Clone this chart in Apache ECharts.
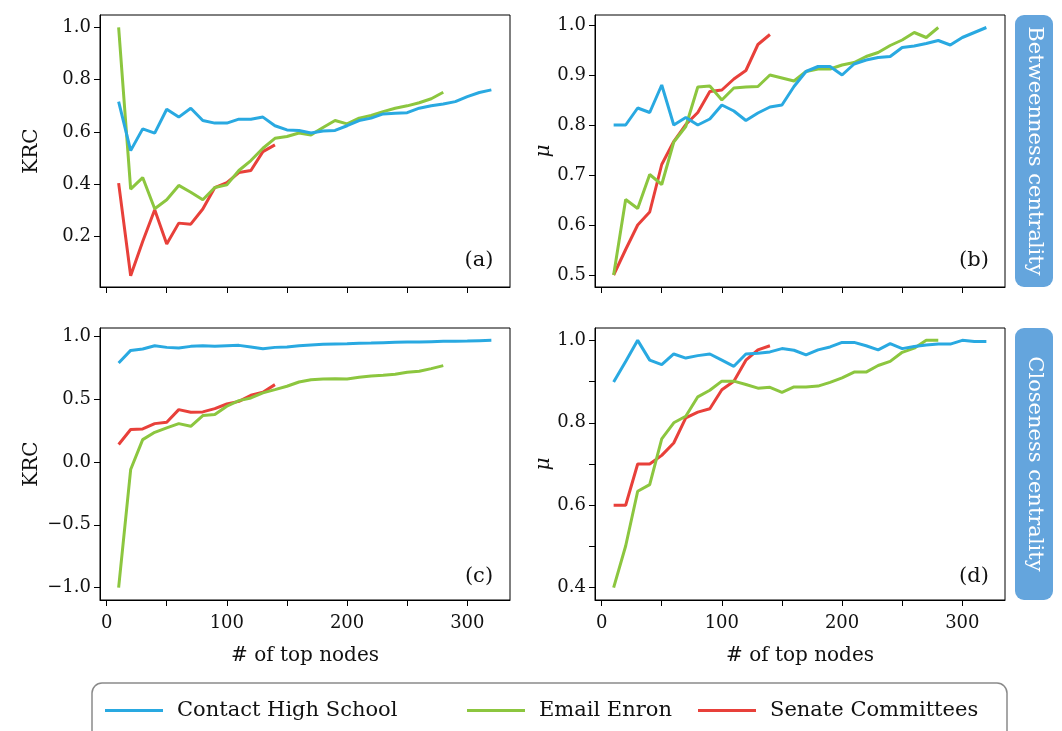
<!DOCTYPE html>
<html>
<head>
<meta charset="utf-8">
<script src="https://cdn.jsdelivr.net/npm/echarts@6.0.0/dist/echarts.min.js"></script>
<style>
html, body { margin: 0; padding: 0; background: #fff; }
#main { width: 1062px; height: 731px; }
</style>
</head>
<body>
<div id="main"></div>
<script>
// top-N node counts, same for every panel
var topNodes = [10, 20, 30, 40, 50, 60, 70, 80, 90, 100, 110, 120, 130, 140, 150, 160,
    170, 180, 190, 200, 210, 220, 230, 240, 250, 260, 270, 280, 290, 300, 310, 320];

var seriesNames = ['Contact High School', 'Email Enron', 'Senate Committees'];
var seriesColors = ['#29a9e1', '#8cc63f', '#e8403a'];

// (a) betweenness, KRC
var betKrcSchool = [0.716, 0.529, 0.612, 0.596, 0.687, 0.657, 0.691, 0.644, 0.634, 0.634, 0.649, 0.649,
    0.657, 0.624, 0.608, 0.606, 0.596, 0.604, 0.606, 0.624, 0.644, 0.653, 0.669, 0.672, 0.674, 0.691,
    0.700, 0.707, 0.716, 0.735, 0.751, 0.761];
var betKrcEnron = [1.0, 0.382, 0.426, 0.307, 0.341, 0.396, 0.370, 0.341, 0.388, 0.398, 0.453, 0.491,
    0.538, 0.576, 0.583, 0.596, 0.589, 0.617, 0.644, 0.631, 0.653, 0.663, 0.678, 0.691, 0.700, 0.712,
    0.727, 0.752];
var betKrcSenate = [0.405, 0.051, 0.182, 0.303, 0.172, 0.252, 0.248, 0.306, 0.388, 0.407, 0.445, 0.453,
    0.525, 0.551];

// (b) betweenness, mu
var betMuSchool = [0.800, 0.800, 0.834, 0.825, 0.880, 0.800, 0.815, 0.800, 0.812, 0.840, 0.828, 0.809,
    0.824, 0.836, 0.840, 0.877, 0.907, 0.917, 0.917, 0.900, 0.922, 0.930, 0.935, 0.937, 0.955, 0.958,
    0.963, 0.969, 0.960, 0.975, 0.985, 0.995];
var betMuEnron = [0.500, 0.651, 0.633, 0.701, 0.681, 0.766, 0.797, 0.876, 0.878, 0.850, 0.874, 0.876,
    0.877, 0.900, 0.894, 0.888, 0.907, 0.912, 0.912, 0.920, 0.925, 0.937, 0.945, 0.959, 0.970, 0.985,
    0.975, 0.995];
var betMuSenate = [0.500, 0.551, 0.600, 0.626, 0.721, 0.767, 0.801, 0.825, 0.867, 0.870, 0.892, 0.909,
    0.961, 0.981];

// (c) closeness, KRC
var cloKrcSchool = [0.786, 0.886, 0.897, 0.923, 0.910, 0.905, 0.918, 0.923, 0.918, 0.923, 0.926, 0.913,
    0.899, 0.910, 0.913, 0.923, 0.929, 0.934, 0.937, 0.939, 0.942, 0.944, 0.947, 0.950, 0.952, 0.952,
    0.955, 0.958, 0.958, 0.960, 0.963, 0.966];
var cloKrcEnron = [-1.0, -0.061, 0.177, 0.235, 0.270, 0.304, 0.283, 0.368, 0.376, 0.442, 0.487, 0.508,
    0.548, 0.574, 0.601, 0.635, 0.653, 0.659, 0.661, 0.659, 0.672, 0.683, 0.688, 0.696, 0.712, 0.720,
    0.741, 0.765];
var cloKrcSenate = [0.138, 0.257, 0.262, 0.304, 0.315, 0.415, 0.394, 0.397, 0.423, 0.460, 0.481, 0.529,
    0.553, 0.614];

// (d) closeness, mu
var cloMuSchool = [0.899, 0.949, 1.000, 0.952, 0.941, 0.967, 0.957, 0.963, 0.967, 0.952, 0.937, 0.967,
    0.969, 0.972, 0.980, 0.976, 0.965, 0.977, 0.984, 0.995, 0.995, 0.987, 0.977, 0.992, 0.980, 0.985,
    0.989, 0.991, 0.991, 1.000, 0.997, 0.997];
var cloMuEnron = [0.400, 0.501, 0.634, 0.650, 0.761, 0.800, 0.816, 0.863, 0.879, 0.901, 0.901, 0.893,
    0.884, 0.886, 0.874, 0.887, 0.887, 0.889, 0.898, 0.909, 0.923, 0.923, 0.939, 0.949, 0.971, 0.981,
    1.000, 1.000];
var cloMuSenate = [0.600, 0.600, 0.700, 0.700, 0.721, 0.751, 0.812, 0.826, 0.834, 0.880, 0.901, 0.952,
    0.977, 0.987];

// tick values
var xTicks = [0, 50, 100, 150, 200, 250, 300];
var xLabels = [0, 100, 200, 300];
var yTicksA = [0.2, 0.4, 0.6, 0.8, 1.0];
var yTicksB = [0.5, 0.6, 0.7, 0.8, 0.9, 1.0];
var yTicksC = [-1.0, -0.5, 0.0, 0.5, 1.0];
var yTicksD = [0.4, 0.5, 0.6, 0.7, 0.8, 0.9, 1.0];
var yLabelsD = [0.4, 0.6, 0.8, 1.0];

var panels = [
    {grid: {left: 100, top: 15}, yMin: 0.008, yMax: 1.047, yTicks: yTicksA, yLabels: yTicksA, yName: 'KRC',
        xLabel: false, data: [betKrcSchool, betKrcEnron, betKrcSenate], tag: '(a)'},
    {grid: {left: 595, top: 15}, yMin: 0.476, yMax: 1.02, yTicks: yTicksB, yLabels: yTicksB, yName: 'μ',
        xLabel: false, data: [betMuSchool, betMuEnron, betMuSenate], tag: '(b)'},
    {grid: {left: 100, top: 328}, yMin: -1.098, yMax: 1.064, yTicks: yTicksC, yLabels: yTicksC, yName: 'KRC',
        xLabel: true, data: [cloKrcSchool, cloKrcEnron, cloKrcSenate], tag: '(c)'},
    {grid: {left: 595, top: 328}, yMin: 0.37, yMax: 1.03, yTicks: yTicksD, yLabels: yLabelsD, yName: 'μ',
        xLabel: true, data: [cloMuSchool, cloMuEnron, cloMuSenate], tag: '(d)'}
];

var serif = 'DejaVu Serif';
var fmt = function (v) {
    return v.toFixed(1).replace('-', '\u2212');
};

var grids = [], xAxes = [], yAxes = [], series = [], graphics = [];

panels.forEach(function (p, i) {
    grids.push({
        left: p.grid.left, top: p.grid.top, width: 410, height: 272,
        show: true, borderColor: '#000', borderWidth: 1, backgroundColor: 'transparent'
    });
    xAxes.push({
        type: 'value', gridIndex: i, min: -5.5, max: 335.5,
        name: p.xLabel ? '# of top nodes' : '',
        nameLocation: 'middle', nameGap: 46,
        nameTextStyle: {fontFamily: serif, fontSize: 20, color: '#111'},
        axisLine: {show: true, onZero: false, lineStyle: {color: '#000', width: 1}},
        axisTick: {show: true, length: 6, customValues: xTicks, lineStyle: {color: '#000'}},
        axisLabel: {show: p.xLabel, customValues: xLabels, margin: 14, fontFamily: serif, fontSize: 18, color: '#111'},
        splitLine: {show: false}
    });
    yAxes.push({
        type: 'value', gridIndex: i, min: p.yMin, max: p.yMax,
        name: p.yName, nameLocation: 'middle', nameRotate: 90, nameGap: p.yName === 'KRC' ? 58 : 40,
        nameTextStyle: {fontFamily: serif, fontSize: 20, color: '#111', fontStyle: p.yName === 'KRC' ? 'normal' : 'italic'},
        axisLine: {show: true, onZero: false, lineStyle: {color: '#000', width: 1}},
        axisTick: {show: true, length: 6, customValues: p.yTicks, lineStyle: {color: '#000'}},
        axisLabel: {customValues: p.yLabels, margin: 9, formatter: fmt, fontFamily: serif, fontSize: 18, color: '#111'},
        splitLine: {show: false}
    });
    p.data.forEach(function (vals, s) {
        series.push({
            name: seriesNames[s], type: 'line', xAxisIndex: i, yAxisIndex: i,
            data: vals.map(function (v, k) { return [topNodes[k], v]; }),
            symbol: 'none', color: seriesColors[s],
            lineStyle: {width: 3, color: seriesColors[s]},
            z: 3 - s
        });
    });
    graphics.push({
        type: 'text', x: p.grid.left + 379, y: p.grid.top + (i < 2 ? 246 : 249),
        style: {text: p.tag, fontFamily: serif, fontSize: 21, fill: '#111', align: 'center', verticalAlign: 'middle'}
    });
});

// side labels
[['Betweenness centrality', 15], ['Closeness centrality', 328]].forEach(function (s) {
    graphics.push({
        type: 'rect', shape: {x: 1015, y: s[1], width: 38, height: 272, r: 9},
        style: {fill: '#64a5dd'}
    });
    graphics.push({
        type: 'text', x: 1034, y: s[1] + 136, rotation: -Math.PI / 2,
        style: {text: s[0], fontFamily: serif, fontSize: 21, fill: '#fff', align: 'center', verticalAlign: 'middle'}
    });
});

// legend frame
graphics.push({
    type: 'rect', shape: {x: 92, y: 683, width: 915, height: 60, r: 10},
    style: {fill: 'none', stroke: '#8a8a8a', lineWidth: 1.5}
});

var legendLeft = [100, 462, 693];
var legends = seriesNames.map(function (n, s) {
    return {
        data: [n], left: legendLeft[s], top: 695, icon: 'rect', itemWidth: 58, itemHeight: 3,
        textStyle: {fontFamily: serif, fontSize: 21, color: '#111', padding: [0, 0, 0, 9]}
    };
});

var option = {
    animation: false,
    backgroundColor: '#fff',
    grid: grids,
    xAxis: xAxes,
    yAxis: yAxes,
    legend: legends,
    series: series,
    graphic: graphics
};

var chart = echarts.init(document.getElementById('main'));
chart.setOption(option);
</script>
</body>
</html>
